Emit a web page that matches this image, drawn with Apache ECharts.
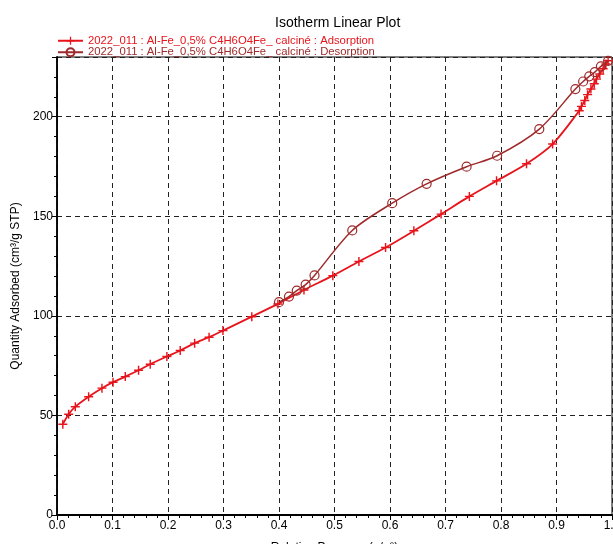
<!DOCTYPE html>
<html><head><meta charset="utf-8">
<script src="https://cdn.jsdelivr.net/npm/echarts@6/dist/echarts.min.js"></script>
<style>html,body{margin:0;padding:0;background:#fff}#c{width:613px;height:544px}</style>
</head><body><div id="c"></div>
<script>
const titleText = "Isotherm Linear Plot";
const adsName = "2022_011 : Al-Fe_0,5% C4H6O4Fe_ calciné : Adsorption";
const desName = "2022_011 : Al-Fe_0,5% C4H6O4Fe_ calciné : Desorption";
const xName = "Relative Pressure (p/p°)";
const yName = "Quantity Adsorbed (cm³/g STP)";

const adsX = [0.0105,0.021,0.033,0.057,0.081,0.101,0.123,0.147,0.168,0.198,0.222,0.248,0.274,0.299,0.351,0.398,0.445,0.497,0.544,0.592,0.643,0.692,0.743,0.792,0.846,0.893,0.941,0.945,0.951,0.956,0.962,0.968,0.972,0.978,0.984,0.989,0.993];
const adsY = [45.6,50.6,54.4,59.4,63.7,66.7,69.5,72.7,75.7,79.6,82.6,86.3,89.3,92.6,99.6,106,113,120.2,127.3,134.3,142.7,151.1,160,167.8,176.4,186.3,203,205.2,208.2,211.1,213.9,216.6,218.9,221.5,224.1,226.5,228.1];

const desX = [0.993,0.98,0.969,0.959,0.948,0.934,0.869,0.793,0.738,0.666,0.604,0.532,0.464,0.448,0.432,0.418,0.400];
const desY = [228.1,225.3,222.4,220.3,217.7,213.9,193.8,180.4,174.9,166.3,156.6,142.9,120.3,115.7,112.7,109.7,106.9];

const xMin = 0, xMax = 1, xInterval = 0.1;
const yMin = 0, yMax = 230, yInterval = 50;

const adsColor = '#e8141b';
const desColor = '#9e2a2b';
const plusPath = 'path://M4.2,0 H5.8 V4.2 H10 V5.8 H5.8 V10 H4.2 V5.8 H0 V4.2 H4.2 Z';

const chart = echarts.init(document.getElementById('c'), null, {renderer:'canvas'});
const font = 'Liberation Sans, Arial, sans-serif';
chart.setOption({
  animation:false,
  backgroundColor:'#fff',
  title:{text:titleText,left:270,top:11,textStyle:{fontFamily:font,fontSize:14,fontWeight:'normal',color:'#000'}},
  legend:{
    orient:'vertical',left:57,top:35,itemGap:0,itemWidth:25,itemHeight:10,padding:0,
    textStyle:{fontFamily:font,fontSize:11.3,lineHeight:11.5},
    data:[{name:adsName,textStyle:{color:adsColor}},{name:desName,textStyle:{color:desColor}}]
  },
  grid:{left:57,right:1,top:57,bottom:29,outerBoundsMode:'none',containLabel:false,show:true,borderColor:'#000',borderWidth:1,backgroundColor:'transparent'},
  xAxis:{
    type:'value',min:xMin,max:xMax,interval:xInterval,
    name:xName,nameLocation:'middle',nameGap:27,
    nameTextStyle:{fontFamily:font,fontSize:12,color:'#000'},
    axisLine:{show:true,lineStyle:{color:'#000',width:1.8}},
    axisTick:{show:true,inside:false,length:5,lineStyle:{color:'#000'}},
    minorTick:{show:true,splitNumber:5,length:3,lineStyle:{color:'#000'}},
    axisLabel:{fontFamily:font,fontSize:12,color:'#000',margin:5,formatter:v=>v.toFixed(1)},
    splitLine:{show:true,lineStyle:{color:'#222',type:[5,4],width:1}}
  },
  yAxis:{
    type:'value',min:yMin,max:yMax,interval:yInterval,
    name:yName,nameLocation:'middle',nameGap:32,
    nameTextStyle:{fontFamily:font,fontSize:12,color:'#000'},
    axisLine:{show:true,lineStyle:{color:'#000',width:1.8}},
    axisTick:{show:true,inside:false,length:5,lineStyle:{color:'#000'}},
    minorTick:{show:true,splitNumber:5,length:3,lineStyle:{color:'#000'}},
    axisLabel:{fontFamily:font,fontSize:12,color:'#000',margin:4,showMaxLabel:false},
    splitLine:{show:true,lineStyle:{color:'#222',type:[5,4],width:1}}
  },
  series:[
    {name:adsName,type:'line',smooth:0.3,data:adsX.map((x,i)=>[x,adsY[i]]),
     symbol:plusPath,symbolSize:9,showAllSymbol:true,
     lineStyle:{color:adsColor,width:1.8},itemStyle:{color:adsColor},z:3},
    {name:desName,type:'line',smooth:0.3,data:desX.map((x,i)=>[x,desY[i]]),
     symbol:'circle',symbolSize:9,showAllSymbol:true,
     lineStyle:{color:desColor,width:1.5},itemStyle:{color:'rgba(0,0,0,0)',borderColor:desColor,borderWidth:1.2},z:4}
  ]
});
</script></body></html>
